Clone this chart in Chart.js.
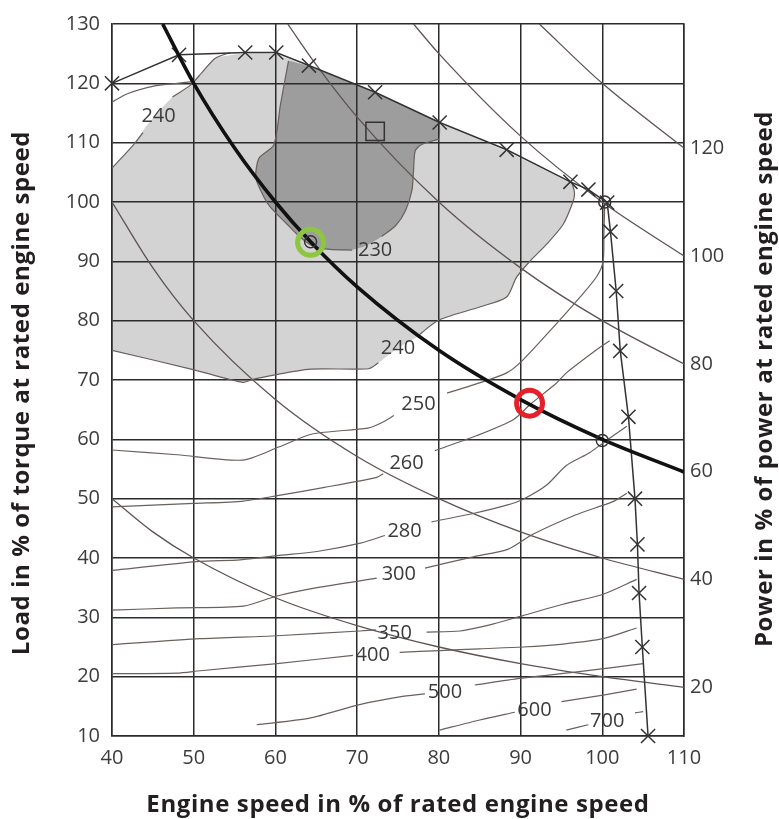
<!DOCTYPE html>
<html>
<head>
<meta charset="utf-8">
<title>Engine map</title>
<script src="https://cdn.jsdelivr.net/npm/chart.js@4.4.1/dist/chart.umd.min.js"></script>
<style>
    html, body { margin: 0; padding: 0; background: #fff; }
    #wrap { width: 779px; height: 819px; position: relative; }
</style>
</head>
<body>
<div id="wrap"><canvas id="mapChart"></canvas></div>
<script>
"use strict";

/*---------------------------------------------------
  Axis ticks
---------------------------------------------------*/
var speedTicks = [40, 50, 60, 70, 80, 90, 100, 110];
var loadTicks = [10, 20, 30, 40, 50, 60, 70, 80, 90, 100, 110, 120, 130];
var powerTicks = [20, 40, 60, 80, 100, 120];

/*---------------------------------------------------
  Map data  [speed %, load %]   (null = break at label)
---------------------------------------------------*/
var fullLoad = [[40, 120], [48.2, 124.8], [56.3, 125.2], [60.1, 125.2], [64.1, 123], [72.2, 118.5],
    [80.1, 113.4], [88.3, 108.8], [96.1, 103.4], [98.3, 102.1], [100.6, 99.9], [101, 95], [101.7, 85],
    [102.2, 74.9], [103.2, 63.8], [104, 50], [104.3, 42.3], [104.5, 34.1], [104.9, 25], [105.6, 10]];

// thick line, 60 % power
var power60 = [[46.2, 130], [50, 120], [55, 109.1], [60, 100], [64.3, 93.3], [70, 85.7], [80, 75],
    [90, 66.7], [100, 60], [110, 54.5]];

// thin constant power lines
var power20 = [[40, 50], [45, 44.4], [50, 40], [60, 33.3], [70, 28.6], [80, 25], [90, 22.2], [100, 20], [110, 18.2]];
var power40 = [[40, 100], [45, 88.9], [50, 80], [60, 66.7], [70, 57.1], [80, 50], [90, 44.4], [100, 40], [110, 36.4]];
var power80 = [[61.5, 130], [65, 123.1], [70, 114.3], [80, 100], [90, 88.9], [100, 80], [110, 72.7]];
var power100 = [[76.9, 130], [80, 125], [90, 111.1], [100, 100], [110, 90.9]];
var power120 = [[92.3, 130], [100, 120], [110, 109.1]];

var lightRegion = [[40, 105.7], [42.6, 109.6], [44.2, 112.8], [45.8, 115.4], [47.4, 117.7], [49.6, 119.7],
    [51, 121.8], [52.6, 124.2], [56, 125], [60, 124.9], [64, 122.8], [72, 118.3], [80, 113.3], [88, 108.7],
    [96, 103.3], [96.6, 102.4], [96.4, 100], [95.2, 96.2], [93.2, 92.9], [91.2, 90.1], [89.5, 87.3],
    [88.3, 84], [85, 82.3], [80, 80.1], [77.3, 77.3], [74.8, 75.2], [72.6, 72.9], [71.4, 71.9], [64, 71.8],
    [57.2, 70.1], [56, 69.6], [49.8, 71.8], [40, 75]];

var darkRegion = [[61.6, 123.8], [64.1, 122.9], [72.2, 118.4], [80, 113.3], [80, 110.6], [77.9, 109.7],
    [77.1, 108.6], [76.9, 105.2], [76.7, 101.9], [75.9, 98.5], [74.7, 96], [73, 94.2], [71, 92.6],
    [69.1, 91.9], [66.7, 92], [64.7, 92.5], [63, 94.1], [61.4, 96.3], [59.4, 99.1], [58.6, 100.8],
    [57.6, 104.1], [58, 107.4], [59.8, 109.6], [60.6, 116.3]];

var c230 = [[61.6, 123.8], [60.6, 116.3], [59.8, 109.6], [58, 107.4], [57.6, 104.1], [58.6, 100.8],
    [59.4, 99.1], [61.4, 96.3], [63, 94.1], [64.7, 92.5], [66.7, 92], [69.4, 91.9], [70, null],
    [73, 94.2], [74.7, 96], [75.9, 98.5], [76.7, 101.9], [76.9, 105.2], [77.1, 108.6], [77.9, 109.7], [80, 110.6]];
var c240 = [[40, 105.7], [42.6, 109.6], [43.8, 111.7], [44.5, null], [47.4, 117.7], [49.6, 119.7],
    [51, 121.8], [52.6, 124.2], [54.5, 125.2], [55, null], [96.3, 103.2], [96.6, 101.5], [96.4, 100],
    [95.2, 96.2], [93.2, 92.9], [91.2, 90.1], [89.5, 87.3], [88.3, 84], [85, 82.3], [80, 80.1],
    [77.4, 77.4], [76, null], [72.6, 72.9], [71.4, 71.9], [64, 71.8], [57.2, 70.1], [56, 69.6],
    [49.8, 71.8], [40, 75]];
var c250top = [[40, 116.8], [41.8, 118.2], [45.4, 119.6], [48, 120], [50, 120.3]];
var c250 = [[40, 58.2], [48, 57.4], [56, 56.5], [60.4, 58.7], [64.5, 60.9], [71.3, 61.9], [73, 62.8],
    [74.5, 64], [75, null], [81, 67.8], [84.5, 69.3], [88.3, 71.2], [90.3, 73.4], [94.4, 79.5],
    [97.3, 84], [99.3, 87.4], [100.1, 90], [100.2, 95], [100.3, 99.6]];
var c260 = [[40, 48.6], [50, 49.2], [56.1, 49.6], [60.6, 50.6], [66, 51.9], [72.4, 53.6], [73.2, 54.2],
    [74, null], [79.5, 58.1], [84.6, 60.6], [89.1, 63.3], [91.2, 65.9], [94.4, 69.5], [95.6, 71.2],
    [99.3, 75.1], [100.9, 76.6]];
var c280 = [[40, 37.9], [50.4, 39.4], [55.7, 39.7], [60.2, 40.4], [65.1, 41.1], [70.4, 42.5], [73.4, 43.8],
    [74, null], [79.1, 46.1], [84.2, 47.5], [88.3, 48.9], [90.3, 49.9], [93.2, 52.3], [95.6, 55.6],
    [98.5, 57.8], [100.1, 59.4], [103, 62.2]];
var c300 = [[40, 31.2], [48, 31.6], [56.1, 31.9], [60.2, 33.6], [65.1, 35], [72.4, 36.6], [73, null],
    [78.3, 38.3], [84.2, 40.2], [88.5, 41.5], [91.5, 44], [96.8, 47.3], [101.3, 49.5], [103, 50.9]];
var c350 = [[40, 25.4], [50.8, 26.4], [60.2, 26.9], [70.3, 27.7], [72.3, 27.9], [73, null], [78.5, 27.5],
    [82.6, 27.7], [86.7, 28.9], [90.3, 30.3], [95.2, 32.2], [100.1, 33.9], [104.2, 36.4]];
var c400 = [[40, 20.5], [47.9, 20.6], [50.8, 21], [60.2, 22.2], [69.5, 23.6], [70, null], [75.2, 24.1],
    [80.1, 24.4], [85, 24.7], [90.3, 25], [95.2, 25.5], [100.1, 26.4], [104.2, 28.2]];
var c500 = [[57.7, 11.9], [64.2, 13], [70.3, 15.3], [75.2, 16.6], [78.3, 17.1], [79, null], [84.4, 18.6],
    [89.9, 19.7], [96.9, 20.8], [105, 22.2]];
var c600 = [[80.1, 11], [85, 12.7], [89.3, 14], [90, null], [95, 15.8], [100.1, 16.9], [104.2, 17.9]];
var c700 = [[95.6, 11], [98.3, 11.9], [99, null], [104, 13.9], [105, 14.1]];

// [text, speed, load]
var contourLabels = [['240', 45.7, 114.5], ['230', 72.2, 91.8], ['240', 75, 75.4], ['250', 77.5, 65.9],
    ['260', 76.05, 55.9], ['280', 75.8, 44.5], ['300', 75.1, 37.2], ['350', 74.6, 27.3],
    ['400', 71.9, 23.6], ['500', 80.75, 17.4], ['600', 91.7, 14.3], ['700', 100.6, 12.4]];

var smallCircles = [[100.3, 100], [100, 59.8], [64.3, 93.3]];
var bestPoint = [[72.2, 111.9]];
var greenPoint = [[64.3, 93.2]];
var redPoint = [[91.1, 66.1]];

/*---------------------------------------------------
  Helpers
---------------------------------------------------*/
var tickFont = { family: '"Open Sans"', size: 20 };
var gridColor = '#2b2b2b';

function lineSet(data, color, width, extra) {
    var ds = {
        data: data,
        showLine: true,
        borderColor: color,
        borderWidth: width,
        pointRadius: 0,
        tension: 0.25,
        order: 8
    };
    for (var k in extra) { ds[k] = extra[k]; }
    return ds;
}

function areaSet(data, color, order) {
    return {
        data: data,
        showLine: true,
        fill: 'shape',
        backgroundColor: color,
        borderColor: 'rgba(0,0,0,0)',
        borderWidth: 0,
        pointRadius: 0,
        tension: 0.2,
        order: order
    };
}

function markerSet(data, style, radius, color, width, order) {
    return {
        data: data,
        showLine: false,
        pointStyle: style,
        pointRadius: radius,
        pointBorderColor: color,
        pointBackgroundColor: 'rgba(0,0,0,0)',
        pointBorderWidth: width,
        clip: false,
        order: order
    };
}

var hyperColor = '#5e5452';
var contourColor = '#6a605c';

var datasets = [
    areaSet(lightRegion, '#d3d3d3', 30),
    areaSet(darkRegion, '#9d9d9d', 29)
];

[power20, power40, power80, power100, power120].forEach(function (p) {
    datasets.push(lineSet(p, hyperColor, 1.3, { cubicInterpolationMode: 'monotone', order: 10 }));
});

[c230, c240, c250top, c250, c260, c280, c300, c350, c400, c500, c600, c700].forEach(function (c) {
    datasets.push(lineSet(c, contourColor, 1.2, { order: 9 }));
});

datasets.push(lineSet(fullLoad, '#333', 1.5, {
    tension: 0, pointRadius: 10, pointStyle: 'crossRot', pointBorderColor: '#333',
    pointBorderWidth: 1.5, clip: false, order: 6
}));
datasets.push(lineSet(power60, '#111', 3.6, { cubicInterpolationMode: 'monotone', order: 5 }));
datasets.push(markerSet(smallCircles, 'circle', 6, '#333', 1.5, 4));
datasets.push(markerSet(bestPoint, 'rect', 13, '#333', 1.5, 4));
datasets.push(markerSet(greenPoint, 'circle', 13, '#8dc63f', 5, 1));
datasets.push(markerSet(redPoint, 'circle', 13, '#e5202a', 5, 1));

/*---------------------------------------------------
  Labels and vertical titles
---------------------------------------------------*/
var textPlugin = {
    id: 'mapText',
    afterDatasetsDraw: function (chart) {
        var ctx = chart.ctx;
        var xs = chart.scales.x, ys = chart.scales.y;
        ctx.save();
        ctx.font = '20px "Open Sans"';
        ctx.fillStyle = '#3a3a3a';
        ctx.textAlign = 'center';
        ctx.textBaseline = 'middle';
        contourLabels.forEach(function (l) {
            ctx.fillText(l[0], xs.getPixelForValue(l[1]), ys.getPixelForValue(l[2]));
        });
        ctx.restore();
    },
    afterDraw: function (chart) {
        var ctx = chart.ctx, a = chart.chartArea;
        var mid = (a.top + a.bottom) / 2;
        ctx.save();
        ctx.font = 'bold 24px "Open Sans"';
        ctx.fillStyle = '#231f20';
        ctx.textAlign = 'center';
        ctx.textBaseline = 'middle';
        if ('letterSpacing' in ctx) ctx.letterSpacing = '0.6px';

        ctx.fillText('Engine speed in % of rated engine speed', (a.left + a.right) / 2, a.bottom + 69);

        ctx.save();
        ctx.translate(a.left - 90, mid + 13);
        ctx.rotate(-Math.PI / 2);
        ctx.fillText('Load in % of torque at rated engine speed', 0, 0);
        ctx.restore();

        ctx.save();
        ctx.translate(a.right + 81, mid - 1);
        ctx.rotate(-Math.PI / 2);
        ctx.fillText('Power in % of power at rated engine speed', 0, 0);
        ctx.restore();

        ctx.restore();
    }
};

/*---------------------------------------------------
  Chart
---------------------------------------------------*/
var mapChart = new Chart(document.getElementById('mapChart'), {
    type: 'scatter',
    data: { datasets: datasets },
    plugins: [textPlugin],
    options: {
        responsive: true,
        maintainAspectRatio: false,
        devicePixelRatio: 1,
        animation: false,
        events: [],
        layout: { padding: { top: 18, left: 0, right: 0, bottom: 0 } },
        plugins: {
            legend: { display: false },
            tooltip: { enabled: false },
            filler: { drawTime: 'beforeDraw' }
        },
        scales: {
            x: {
                type: 'linear',
                min: 40,
                max: 110,
                afterBuildTicks: function (s) { s.ticks = speedTicks.map(function (v) { return { value: v }; }); },
                afterFit: function (s) { s.height = 83; },
                ticks: { font: tickFont, color: '#3c3c3c', padding: 10, maxRotation: 0 },
                grid: { color: gridColor, lineWidth: 1.5, drawTicks: false },
                border: { color: gridColor, width: 1.5 }
            },
            y: {
                type: 'linear',
                position: 'left',
                min: 10,
                max: 130,
                afterBuildTicks: function (s) { s.ticks = loadTicks.map(function (v) { return { value: v }; }); },
                afterFit: function (s) { s.width = 112; },
                ticks: { font: tickFont, color: '#3c3c3c', padding: 12 },
                grid: { color: gridColor, lineWidth: 1.5, drawTicks: false },
                border: { color: gridColor, width: 1.5 }
            },
            y2: {
                type: 'linear',
                position: 'right',
                min: 11,   // power at 110 % speed = 1.1 x load
                max: 143,
                afterBuildTicks: function (s) { s.ticks = powerTicks.map(function (v) { return { value: v }; }); },
                afterFit: function (s) { s.width = 95; },
                ticks: { font: tickFont, color: '#3c3c3c', padding: 6 },
                grid: { display: false, drawTicks: false },
                border: { color: gridColor, width: 1.5 }
            }
        }
    }
});
</script>
</body>
</html>
